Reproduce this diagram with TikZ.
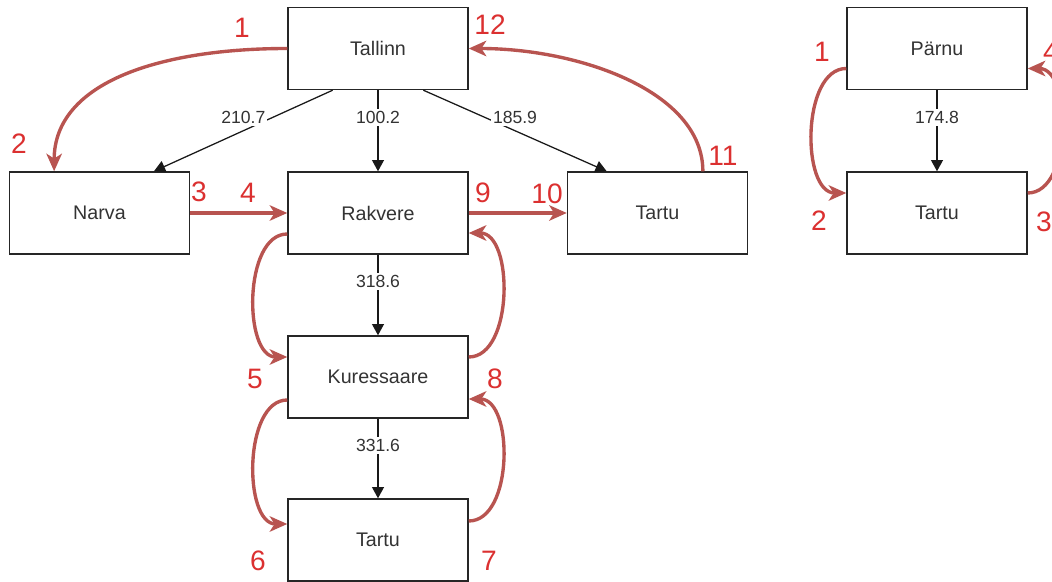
\documentclass[tikz,border=0pt]{standalone}
\usepackage{fontspec}
\setmainfont{Liberation Sans}
\usetikzlibrary{arrows.meta,calc}

\definecolor{routered}{HTML}{B85450}
\definecolor{seqred}{HTML}{DB3030}
\definecolor{txtgray}{HTML}{333333}

\tikzset{
  city/.style={draw=black!85, line width=1pt, minimum width=4.5cm, minimum height=2.05cm,
    inner sep=0pt, text=txtgray, font=\fontsize{14}{16}\selectfont},
  road/.style={draw=black!90, line width=0.9pt, -{Triangle[length=8pt, width=8.5pt]}},
  dist/.style={pos=0.5, yshift=0.33cm, fill=white, inner sep=1.5pt, text=txtgray,
    font=\fontsize{12.5}{14}\selectfont},
  route/.style={draw=routered, line width=2.4pt, -{Stealth[length=12.5pt, width=11pt, inset=3.5pt]}},
  seqno/.style={text=seqred, inner sep=0pt, font=\fontsize{20}{22}\selectfont}
}

\begin{document}
\begin{tikzpicture}[x=0.025cm, y=-0.025cm]
\useasboundingbox (0,0) rectangle (1052,582);

% towns
\node[city] (tallinn)    at (378,48.5)  {Tallinn};
\node[city] (narva)      at (99.5,213)  {Narva};
\node[city] (rakvere)    at (378,213)   {Rakvere};
\node[city] (tartub)     at (657.5,213) {Tartu};
\node[city] (kuressaare) at (378,377)   {Kuressaare};
\node[city] (tartuc)     at (378,540)   {Tartu};
\node[city] (parnu)      at (937,48.5)  {Pärnu};
\node[city] (tartud)     at (937,213)   {Tartu};

% roads with distances
\draw[road] ($(tallinn.south west)!0.25!(tallinn.south east)$) -- node[dist]{210.7}
  ($(narva.north west)!0.8!(narva.north east)$);
\draw[road] (tallinn) -- node[dist]{100.2} (rakvere);
\draw[road] ($(tallinn.south west)!0.75!(tallinn.south east)$) -- node[dist]{185.9}
  ($(tartub.north west)!0.22!(tartub.north east)$);
\draw[road] (rakvere) -- node[dist]{318.6} (kuressaare);
\draw[road] (kuressaare) -- node[dist]{331.6} (tartuc);
\draw[road] (parnu) -- node[dist]{174.8} (tartud);

% tour
\draw[route] (tallinn.west) .. controls +(-125,0) and +(0,-90) ..
  ($(narva.north west)!0.25!(narva.north east)$);
\draw[route] (narva) -- (rakvere);
\draw[route] ($(rakvere.west)+(0,21)$) .. controls +(-44,0) and +(-44,0) .. ($(kuressaare.west)+(0,-20)$);
\draw[route] ($(kuressaare.west)+(0,23)$) .. controls +(-44,0) and +(-44,0) .. ($(tartuc.west)+(0,-16)$);
\draw[route] ($(tartuc.east)+(0,-19)$) .. controls +(45,0) and +(45,0) .. ($(kuressaare.east)+(0,22)$);
\draw[route] ($(kuressaare.east)+(0,-20)$) .. controls +(45,0) and +(45,0) .. ($(rakvere.east)+(0,20)$);
\draw[route] (rakvere) -- (tartub);
\draw[route] ($(tartub.north west)!0.75!(tartub.north east)$) .. controls +(0,-80) and +(110,0) ..
  (tallinn.east);

\draw[route] ($(parnu.west)+(0,20)$) .. controls +(-45,0) and +(-45,0) .. ($(tartud.west)+(0,-20)$);
\draw[route] ($(tartud.east)+(0,-20)$) .. controls +(45,0) and +(45,0) .. ($(parnu.east)+(0,20)$);

% order of the legs
\foreach \n/\x/\y in {1/242/28, 2/19/144, 3/199/192, 4/248/193, 5/255/379, 6/258/561,
                       7/489/561, 8/495/379, 9/483/193, 10/547/194, 11/723/156, 12/490/25}
  \node[seqno] (s\n) at (\x,\y) {\n};
\foreach \n/\x/\y in {1/822/52, 2/819/221, 3/1044/222, 4/1051/52}
  \node[seqno] (p\n) at (\x,\y) {\n};

\end{tikzpicture}
\end{document}
